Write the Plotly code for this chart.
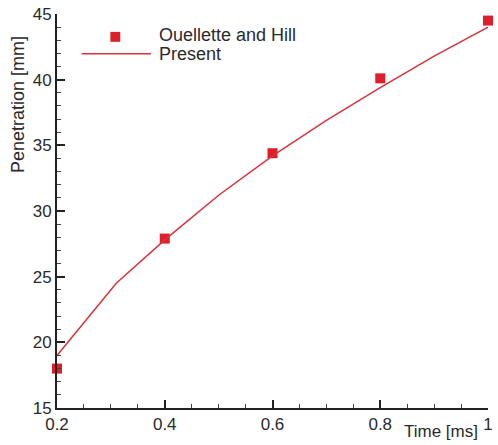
import plotly.graph_objects as go

exp_time = [0.2, 0.4, 0.6, 0.8, 1.0]
exp_pen = [18.0, 27.9, 34.4, 40.1, 44.5]

sim_time = [0.2, 0.31, 0.4, 0.5, 0.6, 0.7, 0.8, 0.9, 1.0]
sim_pen = [19.0, 24.5, 27.8, 31.2, 34.2, 36.9, 39.4, 41.8, 44.0]

legend_labels = ["Ouellette and Hill", "Present"]

RED = "#de1f2a"
LINE = "#d8323c"
FONT = "Liberation Sans, Arial, sans-serif"
TXT = "#2a2a2a"

fig = go.Figure()
fig.add_trace(go.Scatter(x=exp_time, y=exp_pen, mode="markers", name=legend_labels[0],
                         marker=dict(symbol="square", size=10, color=RED), cliponaxis=False))
fig.add_trace(go.Scatter(x=sim_time, y=sim_pen, mode="lines", name=legend_labels[1],
                         line=dict(color=LINE, width=1.5)))

# custom legend (key glyphs in paper coordinates)
shapes = [
    dict(type="line", xref="paper", yref="paper", x0=0.0573, x1=0.2179, y0=0.899, y1=0.899,
         line=dict(color=LINE, width=1.5)),
    dict(type="rect", xref="paper", yref="paper", x0=0.1353 - 0.0115, x1=0.1353 + 0.0115,
         y0=0.942 - 0.0126, y1=0.942 + 0.0126, line=dict(width=0), fillcolor=RED),
]

fig.update_layout(
    width=498, height=445,
    margin=dict(l=57, r=5, t=12, b=37),
    paper_bgcolor="white", plot_bgcolor="white",
    font=dict(family=FONT, color=TXT, size=17),
    showlegend=False,
    shapes=shapes,
    xaxis=dict(range=[0.2, 1.0], tickvals=[0.2, 0.4, 0.6, 0.8, 1.0],
               ticktext=["0.2", "0.4", "0.6", "0.8", "1"],
               showline=True, linecolor="#222222", linewidth=2, mirror=False,
               ticks="inside", ticklen=8, tickwidth=2, tickcolor="#222222",
               showgrid=False, zeroline=False, tickfont=dict(size=17),
               minor=dict(dtick=0.05, ticks="inside", ticklen=4, tickwidth=1, tickcolor="#444444", showgrid=False)),
    yaxis=dict(range=[15, 45], tickvals=[15, 20, 25, 30, 35, 40, 45],
               showline=True, linecolor="#222222", linewidth=2, mirror=False,
               ticks="inside", ticklen=8, tickwidth=2, tickcolor="#222222",
               showgrid=False, zeroline=False, tickfont=dict(size=17),
               minor=dict(dtick=1, ticks="inside", ticklen=4, tickwidth=1, tickcolor="#444444", showgrid=False)),
    annotations=[
        dict(text="Penetration [mm]", x=-0.0917, y=0.77, xref="paper", yref="paper",
             xanchor="center", yanchor="middle",
             textangle=-90, showarrow=False, font=dict(size=18, family=FONT, color=TXT)),
        dict(text="Time [ms]", x=0.89, y=-0.0606, xref="paper", yref="paper",
             xanchor="center", yanchor="middle",
             showarrow=False, font=dict(size=17, family=FONT, color=TXT)),
        dict(text=legend_labels[0], x=0.2317, y=0.947, xref="paper", yref="paper",
             xanchor="left", yanchor="middle",
             showarrow=False, font=dict(size=18, family=FONT, color=TXT)),
        dict(text=legend_labels[1], x=0.2317, y=0.899, xref="paper", yref="paper",
             xanchor="left", yanchor="middle",
             showarrow=False, font=dict(size=18, family=FONT, color=TXT)),
    ],
)

fig.write_html("out.html")
